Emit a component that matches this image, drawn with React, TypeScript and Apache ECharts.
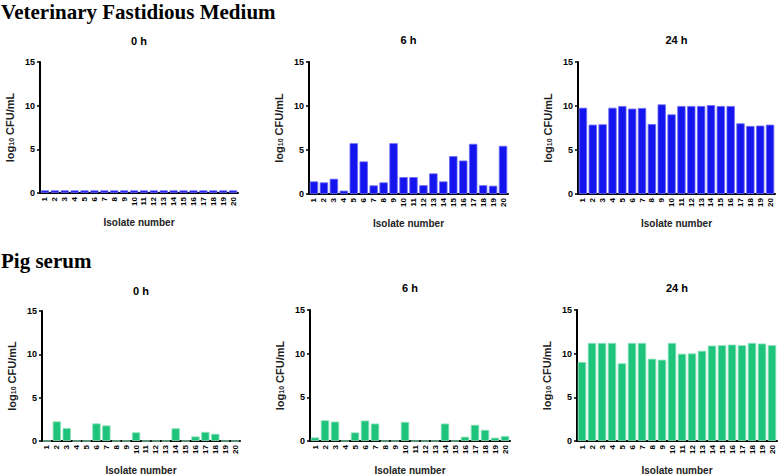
import React, { useEffect, useRef } from "react";
import * as echarts from "echarts";

const isolates = ["1","2","3","4","5","6","7","8","9","10","11","12","13","14","15","16","17","18","19","20"];
const yTicks = [0, 5, 10, 15];
const panelTitles = ["0 h", "6 h", "24 h"];
const sectionTitles = ["Veterinary Fastidious Medium", "Pig serum"];

const vfm0h = [0.3,0.3,0.3,0.3,0.3,0.3,0.3,0.3,0.3,0.3,0.3,0.3,0.3,0.3,0.3,0.3,0.3,0.3,0.3,0.3];
const vfm6h = [1.43,1.32,1.73,0.38,5.77,3.7,0.98,1.32,5.77,1.92,1.92,1.0,2.34,1.43,4.3,3.8,5.7,1.0,0.94,5.47];
const vfm24h = [9.8,7.88,7.92,9.8,10.0,9.7,9.77,7.95,10.18,9.05,10.0,10.0,10.0,10.1,10.0,10.0,8.03,7.73,7.77,7.88];
const pig0h = [0,2.26,1.5,0,0,2.03,1.8,0,0,1.0,0,0,0,1.47,0,0.53,1.05,0.83,0,0];
const pig6h = [0.41,2.37,2.22,0,0.98,2.34,2.0,0,0,2.19,0,0,0,2.0,0,0.49,1.85,1.28,0.38,0.57];
const pig24h = [9.05,11.23,11.23,11.23,8.9,11.23,11.23,9.42,9.31,11.23,9.99,10.03,10.33,10.93,10.97,11.04,10.97,11.23,11.16,10.97];

const BLUE = "#1414ee";
const BLUE_EDGE = "#6a6af6";
const GREEN = "#1ec47c";
const GREEN_EDGE = "#8fe2bb";

const panels = [
  { data: vfm0h, title: panelTitles[0], color: BLUE, edge: BLUE_EDGE, left: 40, top: 62, width: 198, height: 131, titleTop: 35 },
  { data: vfm6h, title: panelTitles[1], color: BLUE, edge: BLUE_EDGE, left: 309, top: 62, width: 199, height: 132, titleTop: 34 },
  { data: vfm24h, title: panelTitles[2], color: BLUE, edge: BLUE_EDGE, left: 578, top: 62, width: 197, height: 132, titleTop: 34 },
  { data: pig0h, title: panelTitles[0], color: GREEN, edge: GREEN_EDGE, left: 42, top: 311, width: 198, height: 132, titleTop: 285 },
  { data: pig6h, title: panelTitles[1], color: GREEN, edge: GREEN_EDGE, left: 310, top: 310, width: 200, height: 133, titleTop: 282 },
  { data: pig24h, title: panelTitles[2], color: GREEN, edge: GREEN_EDGE, left: 577, top: 310, width: 200, height: 133, titleTop: 282 },
];

const FONT = "Liberation Sans, Arial, sans-serif";
const SERIF = "Liberation Serif, Times New Roman, serif";

export default function App() {
  const ref = useRef<HTMLDivElement>(null);
  useEffect(() => {
    if (!ref.current) return;
    const chart = echarts.init(ref.current, null, { renderer: "svg" });
    const titles: any[] = [
      { text: sectionTitles[0], left: 1, top: 1, padding: 0, textStyle: { fontFamily: SERIF, fontWeight: "bold", fontSize: 21, color: "#000" } },
      { text: sectionTitles[1], left: 1, top: 250, padding: 0, textStyle: { fontFamily: SERIF, fontWeight: "bold", fontSize: 21, color: "#000" } },
    ];
    panels.forEach((p) => {
      titles.push({
        text: p.title,
        left: p.left + p.width / 2,
        top: p.titleTop,
        padding: 0,
        textAlign: "center",
        textStyle: { fontFamily: FONT, fontWeight: "bold", fontSize: 11, color: "#000" },
      });
    });
    const option: any = {
      animation: false,
      backgroundColor: "#fff",
      title: titles,
      grid: panels.map((p) => ({ left: p.left, top: p.top, width: p.width, height: p.height, containLabel: false })),
      xAxis: panels.map((p, i) => ({
        type: "category",
        gridIndex: i,
        data: isolates,
        name: "Isolate number",
        nameLocation: "middle",
        nameGap: 24,
        nameTextStyle: { fontFamily: FONT, fontWeight: "bold", fontSize: 10, color: "#222" },
        axisLine: { lineStyle: { color: "#000", width: 2 } },
        axisTick: { alignWithLabel: true, length: 3, lineStyle: { color: "#000", width: 1 } },
        axisLabel: { rotate: 90, interval: 0, margin: 4, fontFamily: FONT, fontWeight: "bold", fontSize: 8, color: "#000" },
      })),
      yAxis: panels.map((p, i) => ({
        type: "value",
        gridIndex: i,
        min: yTicks[0],
        max: yTicks[yTicks.length - 1],
        interval: 5,
        name: "{a|log}{s|10}{a| CFU/mL}",
        nameLocation: "middle",
        nameRotate: 90,
        nameGap: 25,
        nameTextStyle: {
          fontFamily: FONT,
          color: "#222",
          rich: {
            a: { fontFamily: FONT, fontWeight: "bold", fontSize: 11, color: "#222", verticalAlign: "bottom", lineHeight: 13 },
            s: { fontFamily: FONT, fontWeight: "bold", fontSize: 7, color: "#222", verticalAlign: "bottom", lineHeight: 8 },
          },
        },
        splitLine: { show: false },
        axisLine: { show: true, lineStyle: { color: "#000", width: 2 } },
        axisTick: { show: true, length: 3, lineStyle: { color: "#000", width: 1.5 } },
        axisLabel: { margin: 5, fontFamily: FONT, fontWeight: "bold", fontSize: 9, color: "#000" },
      })),
      series: panels.map((p, i) => ({
        type: "bar",
        xAxisIndex: i,
        yAxisIndex: i,
        data: p.data,
        barCategoryGap: "16%",
        itemStyle: { color: p.color, borderColor: p.edge, borderWidth: 0.8 },
      })),
    };
    chart.setOption(option);
    return () => chart.dispose();
  }, []);
  return (
    <div
      ref={ref}
      style={{ position: "absolute", left: 0, top: 0, width: 778, height: 476, background: "#fff" }}
    />
  );
}
